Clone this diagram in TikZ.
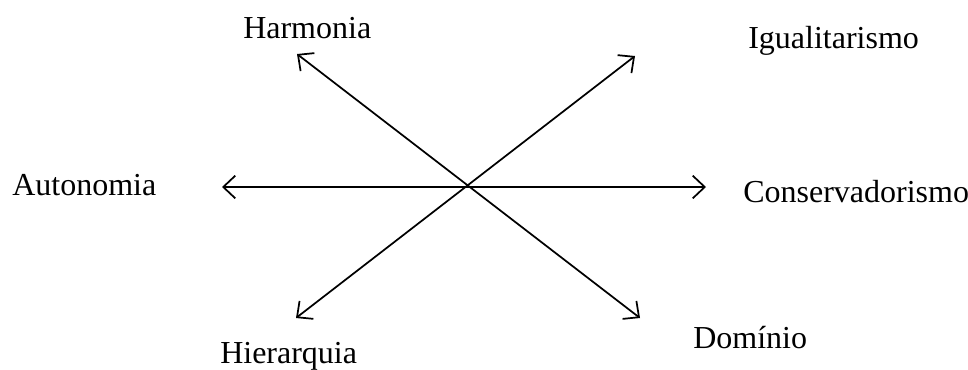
\documentclass[tikz,border=0pt]{standalone}
\usepackage{fontspec}
\setmainfont{Liberation Serif}
\usepackage{tikz}
\usetikzlibrary{arrows.meta, positioning}

\begin{document}
\begin{tikzpicture}[
  x=0.75pt, y=-0.75pt,
  value/.style={
    inner sep=0pt,
    anchor=base west,
    font=\fontsize{24}{28}\selectfont
  },
  axis/.style={{Straight Barb[length=9pt, width=17pt, line width=1.3pt]}-{Straight Barb[length=9pt, width=17pt, line width=1.3pt]}, line width=1.3pt, draw=black}
]
\useasboundingbox (0,0) rectangle (968,369);
% arrow ends
\coordinate (harm) at (297,54);
\coordinate (dom) at (640,318);
\coordinate (igual) at (635,56);
\coordinate (hier) at (296,318);
\coordinate (auto) at (222,187);
\coordinate (cons) at (706,187);
% values
\node[value] (harmonia) at (243,38) {Harmonia};
\node[value] (igualitarismo) at (748,48) {Igualitarismo};
\node[value] (autonomia) at (12,195) {Autonomia};
\node[value] (conservadorismo) at (743,202) {Conservadorismo};
\node[value] (hierarquia) at (220,363) {Hierarquia};
\node[value] (dominio) at (693,348) {Domínio};
\draw[axis] (auto) -- (cons);
\draw[axis] (harm) -- (dom);
\draw[axis] (hier) -- (igual);
\end{tikzpicture}
\end{document}
